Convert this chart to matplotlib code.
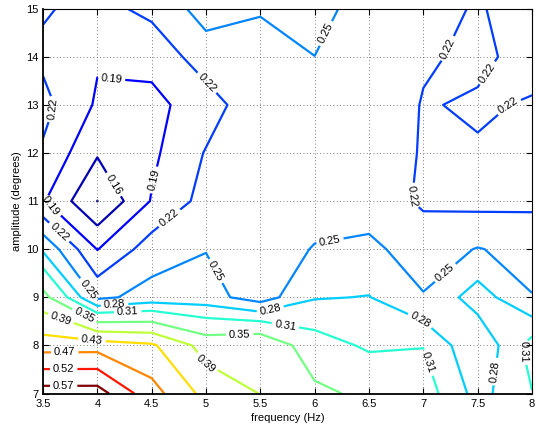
import numpy as np
import matplotlib
matplotlib.use("Agg")
import matplotlib.pyplot as plt
from matplotlib.colors import Normalize
from matplotlib.ticker import FormatStrFormatter

plt.rcParams['font.family'] = ['Liberation Sans', 'DejaVu Sans']

# measurement grid
frequency = [3.5, 4.0, 4.5, 5.0, 5.5, 6.0, 6.5, 7.0, 7.5, 8.0]
amplitude = [7, 8, 9, 10, 11, 12, 13, 14, 15]

# response values, one row per amplitude (7 ... 15 degrees)
z_amp07 = [0.593, 0.593, 0.486, 0.417, 0.389, 0.359, 0.341, 0.326, 0.269, 0.309]
z_amp08 = [0.449, 0.450, 0.436, 0.374, 0.386, 0.325, 0.305, 0.309, 0.253, 0.323]
z_amp09 = [0.364, 0.243, 0.261, 0.262, 0.235, 0.278, 0.281, 0.252, 0.295, 0.251]
z_amp10 = [0.275, 0.189, 0.235, 0.249, 0.232, 0.252, 0.257, 0.235, 0.2515, 0.240]
z_amp11 = [0.193, 0.1297, 0.192, 0.231, 0.235, 0.235, 0.235, 0.216, 0.211, 0.214]
z_amp12 = [0.216, 0.163, 0.184, 0.222, 0.235, 0.240, 0.235, 0.218, 0.2174, 0.210]
z_amp13 = [0.229, 0.186, 0.182, 0.205, 0.243, 0.245, 0.245, 0.218, 0.2235, 0.2175]
z_amp14 = [0.214, 0.193, 0.199, 0.236, 0.245, 0.2498, 0.240, 0.2237, 0.214, 0.230]
z_amp15 = [0.223, 0.210, 0.228, 0.262, 0.251, 0.260, 0.237, 0.240, 0.215, 0.246]

levels = [0.13, 0.16, 0.19, 0.22, 0.25, 0.28, 0.31, 0.35, 0.39, 0.43, 0.47, 0.52, 0.57]

Z = np.array([z_amp07, z_amp08, z_amp09, z_amp10, z_amp11,
              z_amp12, z_amp13, z_amp14, z_amp15])
X, Y = np.meshgrid(frequency, amplitude)

fig = plt.figure(figsize=(5.37, 4.25), dpi=100)
ax = fig.add_axes([0.0801, 0.0741, 0.9106, 0.9054])

cs = ax.contour(X, Y, Z, levels=levels, cmap='jet',
                norm=Normalize(vmin=0.14, vmax=0.57), linewidths=1.6)

label_spots = [
    (4.13, 13.53), (4.97, 13.38), (3.61, 12.9), (4.14, 11.33), (4.52, 11.44),
    (3.55, 10.84), (3.61, 10.26), (4.68, 10.6), (3.89, 9.12), (5.11, 9.57),
    (4.16, 8.8), (4.28, 8.7), (3.87, 8.57), (3.66, 8.53), (3.95, 8.08),
    (3.70, 7.85), (3.69, 7.5), (3.69, 7.17), (5.31, 8.22), (4.99, 7.59),
    (5.59, 8.76), (5.73, 8.41), (6.14, 10.19), (7.22, 9.46), (6.96, 8.46),
    (7.03, 7.63), (7.65, 7.46), (7.91, 7.87), (6.1, 14.49), (7.22, 14.18),
    (7.48, 13.83), (7.75, 13.07), (6.89, 11.1),
]
ax.clabel(cs, fmt='%.2f', fontsize=8, colors='k', inline=True,
          inline_spacing=3, manual=label_spots)

ax.set_xlim(3.5, 8)
ax.set_ylim(7, 15)
ax.set_xticks(frequency)
ax.set_yticks(amplitude)
ax.xaxis.set_major_formatter(FormatStrFormatter('%g'))
ax.yaxis.set_major_formatter(FormatStrFormatter('%g'))
ax.tick_params(direction='in', length=4, width=0.8, top=True, right=True,
               labelsize=8)
ax.tick_params(axis='x', pad=4)
ax.tick_params(axis='y', pad=3)
ax.grid(True, color='#555555', linestyle=(0, (1, 3)), linewidth=0.6)
for side in ['top', 'right']:
    ax.spines[side].set_linewidth(0.8)
for side in ['bottom', 'left']:
    ax.spines[side].set_linewidth(1.3)

ax.set_xlabel('frequency (Hz)', fontsize=8, labelpad=3)
ax.set_ylabel('amplitude (degrees)', fontsize=8, labelpad=3)

fig.savefig('out.png', dpi=100)
